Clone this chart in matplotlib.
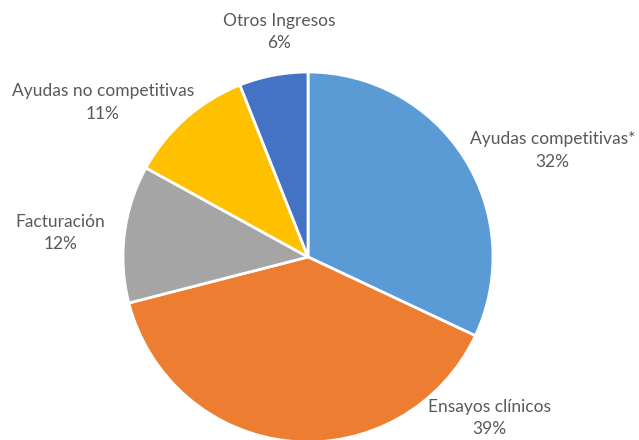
import matplotlib.pyplot as plt
import numpy as np

labels = ['Ayudas competitivas*', 'Ensayos clínicos', 'Facturación',
          'Ayudas no competitivas', 'Otros Ingresos']
values = [32, 39, 12, 11, 6]
colors = ['#5B9BD5', '#ED7D31', '#A5A5A5', '#FFC000', '#4472C4']

# label positions in pie units (radius = 1)
label_pos = [(1.32, 0.575), (0.98, -0.87), (-1.34, 0.13), (-1.11, 0.835), (-0.157, 1.215)]

plt.rcParams['font.family'] = ['Lato', 'DejaVu Sans']

fig = plt.figure(figsize=(6.39, 4.40), dpi=100)
ax = fig.add_axes([0, 0, 1, 1])

wedges, _ = ax.pie(values, colors=colors, startangle=90, counterclock=False,
                   radius=1.0, wedgeprops=dict(edgecolor='white', linewidth=2))

for lab, v, (x, y) in zip(labels, values, label_pos):
    ax.text(x, y, f'{lab}\n{v}%', ha='center', va='center', fontsize=12.5,
            color='#595959', linespacing=1.5)

ax.set_aspect('auto')
ax.set_xlim(-308 / 185, 331 / 185)
ax.set_ylim(-183 / 185, 257 / 185)
ax.axis('off')

fig.savefig('out.png', dpi=100)
